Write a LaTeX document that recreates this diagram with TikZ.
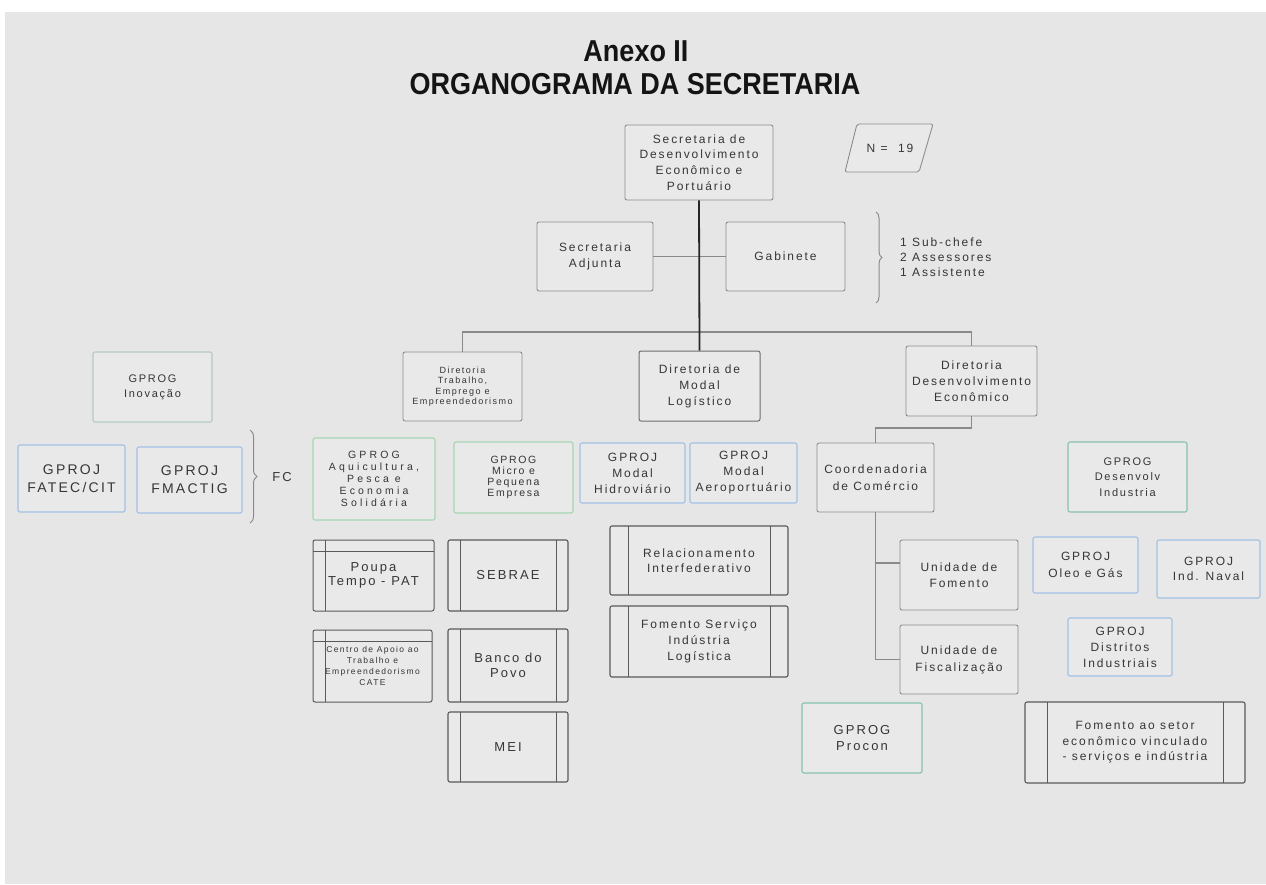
\documentclass[tikz,border=0pt]{standalone}
\usepackage{fontspec}
\usepackage{graphicx}
\usetikzlibrary{decorations.pathreplacing}
\newfontfamily\bxf{Liberation Sans}[LetterSpace=16]
\newfontfamily\bxw{Liberation Sans}[LetterSpace=30]
\newfontfamily\ttlf{Liberation Sans}
\definecolor{bgc}{HTML}{E6E6E6}
\definecolor{boxfill}{HTML}{E9E9E9}
\definecolor{txt}{HTML}{363636}
\definecolor{gline}{HTML}{8E8E8E}
\definecolor{dline}{HTML}{6E6E6E}
\definecolor{grline}{HTML}{A6D6B2}
\definecolor{tline}{HTML}{86C2AE}
\definecolor{ggline}{HTML}{B4CCC2}
\definecolor{blline}{HTML}{A2C0E4}
\definecolor{pline}{HTML}{5A5A5A}
\definecolor{cline}{HTML}{8A8A8A}
\newcommand\orgbox[7]{\node[#6, minimum width={#4pt-#2pt}, minimum height={#5pt-#3pt}] (#1) at ({(#2+#4)/2},{(#3+#5)/2}) {#7};}
\tikzset{
  base/.style={rounded corners=2pt, inner sep=0pt, align=center, text=txt, fill=boxfill},
  gbox/.style={base, draw=gline, line width=0.9pt},
  dbox/.style={base, draw=dline, line width=1pt},
  grbox/.style={base, draw=grline, line width=1.1pt},
  tbox/.style={base, draw=tline, line width=1.1pt},
  ggbox/.style={base, draw=ggline, line width=1.1pt},
  blbox/.style={base, draw=blline, line width=1.1pt},
  procbox/.style={base, draw=pline, line width=1.1pt,
    path picture={\draw[pline,line width=0.9pt] ([xshift=#1]path picture bounding box.north west) -- ([xshift=#1]path picture bounding box.south west);
                  \draw[pline,line width=0.9pt] ([xshift=-#1]path picture bounding box.north east) -- ([xshift=-#1]path picture bounding box.south east);}},
  storbox/.style={base, draw=pline, line width=1pt,
    path picture={\draw[pline,line width=0.8pt] ([xshift=12pt]path picture bounding box.north west) -- ([xshift=12pt]path picture bounding box.south west);
                  \draw[pline,line width=0.8pt] ([yshift=-11pt]path picture bounding box.north west) -- ([yshift=-11pt]path picture bounding box.north east);}},
  fs/.style 2 args={font={\bxf\fontsize{#1}{#2}\selectfont}},
  fw/.style 2 args={font={\bxw\fontsize{#1}{#2}\selectfont}},
  conn/.style={draw=cline, line width=1.1pt},
  mainline/.style={draw=black!85, line width=1.8pt},
  brc/.style={draw=cline, line width=1pt, decorate, decoration={brace, amplitude=6pt}},
  ttl/.style={font={\ttlf\bfseries\fontsize{27}{30}\selectfont}, text=black!92, inner sep=0pt},
}
\begin{document}
\begin{tikzpicture}[x=1pt,y=-1pt]
\useasboundingbox (0,0) rectangle (1266,884);
\fill[white] (0,0) rectangle (1266,884);
\fill[bgc] (5,12) rectangle (1266,884);

% title
\node[ttl] (t1) at (636,51) {\scalebox{1}[1.12]{Anexo II}};
\node[ttl] (t2) at (635,84) {\scalebox{1}[1.12]{ORGANOGRAMA DA SECRETARIA}};

% top level
\orgbox{top}{625}{125}{773}{200}{gbox, fs={12}{15.7}}{Secretaria de\\Desenvolvimento\\Econômico e\\Portuário}
\orgbox{adj}{537}{222}{653}{291}{gbox, fs={12}{16.5}}{Secretaria\\Adjunta}
\orgbox{gab}{726}{222}{845}{291}{gbox, fs={12}{16}}{Gabinete}

% N = 19
\draw[gline, line width=0.9pt, fill=boxfill, rounded corners=2pt] (845,172) -- (857,124) -- (933,124) -- (919,172) -- cycle;
\node[fs={12}{14}, text=txt] (nlab) at (890,148) {N =\ \ 19};

% staff brace
\draw[brc] (876,212) -- (876,303);
\node[fs={12}{15}, text=txt, anchor=west, align=left, inner sep=0pt] (staff) at (900,257) {1 Sub-chefe\\2 Assessores\\1 Assistente};

% directorates
\orgbox{trab}{403}{352}{522}{421}{gbox, fs={9}{10.5}}{Diretoria\\Trabalho,\\Emprego e\\Empreendedorismo}
\orgbox{modal}{639}{351}{760}{421}{dbox, fs={12}{16}}{Diretoria de\\Modal\\Logístico}
\orgbox{desen}{906}{346}{1037}{416}{gbox, fs={12}{16}}{Diretoria\\Desenvolvimento\\Econômico}

% left group
\orgbox{inov}{93}{352}{212}{422}{ggbox, fs={11}{15}}{GPROG\\Inovação}
\orgbox{fatec}{18}{445}{125}{512}{blbox, fs={14}{18}}{GPROJ\\FATEC/CIT}
\orgbox{fmac}{137}{447}{242}{513}{blbox, fs={14}{18}}{GPROJ\\FMACTIG}
\draw[brc, decoration={amplitude=7pt}] (250,430) -- (250,523);
\node[fs={13}{13}, text=txt] (fc) at (282,477) {FC};

% trabalho group
\orgbox{aqui}{313}{438}{435}{520}{grbox, fw={10.5}{12}}{GPROG\\Aquicultura,\\Pesca e\\Economia\\Solidária}
\orgbox{micro}{454}{442}{573}{513}{grbox, fs={10.5}{11}}{GPROG\\Micro e\\Pequena\\Empresa}
\orgbox{poupa}{313}{540}{434}{611}{storbox, fs={13}{14.5}}{Poupa\\Tempo - PAT}
\orgbox{centro}{313}{630}{432}{702}{storbox, fs={8.5}{11}}{Centro de Apoio ao\\Trabalho e\\Empreendedorismo\\CATE}
\orgbox{sebrae}{448}{540}{568}{611}{procbox=12pt, fs={13}{15}}{SEBRAE}
\orgbox{banco}{448}{629}{568}{702}{procbox=12pt, fs={13}{15}}{Banco do\\Povo}
\orgbox{mei}{448}{712}{568}{782}{procbox=12pt, fs={13}{15}}{MEI}

% modal group
\orgbox{hidro}{580}{443}{685}{503}{blbox, fs={12}{16}}{GPROJ\\Modal\\Hidroviário}
\orgbox{aero}{690}{443}{797}{503}{blbox, fs={12}{16}}{GPROJ\\Modal\\Aeroportuário}
\orgbox{rel}{610}{526}{788}{595}{procbox=18pt, fs={12}{15}}{Relacionamento\\Interfederativo}
\orgbox{fserv}{610}{606}{788}{677}{procbox=18pt, fs={12}{16}}{Fomento Serviço\\Indústria\\Logística}

% economic group
\orgbox{coord}{817}{443}{934}{512}{gbox, fs={12}{16.5}}{Coordenadoria\\de Comércio}
\orgbox{dind}{1068}{442}{1187}{512}{tbox, fs={11}{15.5}}{GPROG\\Desenvolv\\Industria}
\orgbox{fom}{900}{540}{1018}{610}{gbox, fs={12}{15.5}}{Unidade de\\Fomento}
\orgbox{fis}{900}{625}{1018}{694}{gbox, fs={12}{17}}{Unidade de\\Fiscalização}
\orgbox{oleo}{1033}{537}{1138}{593}{blbox, fs={12}{16.5}}{GPROJ\\Oleo e Gás}
\orgbox{naval}{1157}{540}{1260}{598}{blbox, fs={12}{15.5}}{GPROJ\\Ind. Naval}
\orgbox{dist}{1068}{618}{1172}{676}{blbox, fs={12}{16}}{GPROJ\\Distritos\\Industriais}
\orgbox{procon}{802}{703}{922}{773}{tbox, fs={13}{15.5}}{GPROG\\Procon}
\orgbox{fset}{1025}{702}{1245}{783}{procbox=22pt, fs={12}{15.5}}{Fomento ao setor\\econômico vinculado\\- serviços e indústria}

% connectors
\coordinate (hj) at (699,332);
\coordinate (dj) at (920,428);
\draw[conn] (adj.east) -- (gab.west);
\draw[conn] (trab.north) |- (hj) -| (desen.north);
\draw[mainline] (top.south) -- (modal.north);
\draw[conn] (desen.south) |- (dj) -| (coord.north);
\draw[conn] (coord.south) |- ([yshift=12pt]fom.west);
\draw[conn] (coord.south) |- (fis.west);
\end{tikzpicture}
\end{document}
